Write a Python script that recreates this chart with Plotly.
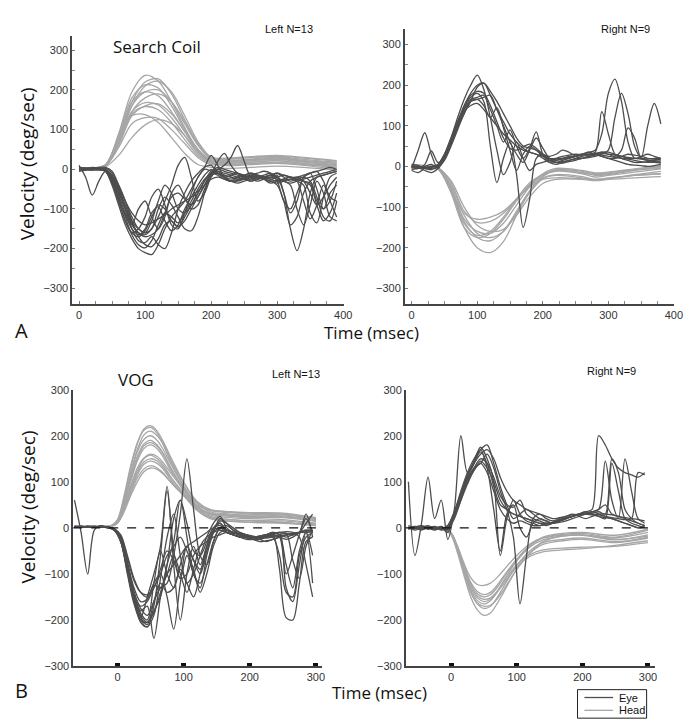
import plotly.graph_objects as go

W, H = 694, 726
EYE_COLOR = "#4d4d4d"
HEAD_COLOR = "#a6a6a6"

# ---------------- Panel A left (Search Coil, Left N=13) ----------------
t_a_eye = list(range(0, 400, 10))
a_left_eye = [
    [5,3,2,0,-5,-30,-70,-120,-165,-190,-198,-180,-140,-110,-120,-135,-110,-80,-50,-25,-10,-5,-15,-20,-25,-20,-18,-22,-25,-20,-15,-60,-150,-205,-150,-60,-20,-15,-10,-5],
    [10,-20,-65,-30,-5,-35,-80,-130,-160,-170,-155,-120,-90,-100,-130,-145,-120,-90,-60,-30,-10,-15,-25,-30,-28,-20,-15,-20,-25,-30,-28,-25,-20,-30,-80,-125,-90,-40,-80,-120],
    [0,2,5,3,-2,-25,-60,-100,-140,-160,-165,-150,-120,-80,-40,10,30,-20,-80,-60,-20,0,-5,-10,-15,-20,-25,-20,-15,-10,-20,-30,-40,-100,-140,-90,-30,-60,-120,-130],
    [3,0,-2,2,0,-20,-55,-100,-150,-180,-185,-170,-190,-200,-160,-100,-60,-30,-10,5,10,-10,-20,-15,-10,-20,-30,-25,-20,-15,-20,-60,-110,-80,-20,-10,-50,-100,-80,-30],
    [0,0,2,0,-5,-40,-90,-140,-175,-200,-210,-215,-190,-150,-120,-100,-80,-50,-20,5,35,10,-20,-30,-20,-15,-10,-15,-20,-25,-20,-15,-20,-25,-30,-40,-90,-130,-110,-60],
    [2,1,0,-1,-3,-20,-50,-90,-130,-150,-160,-150,-100,-70,-90,-120,-150,-155,-120,-60,-10,5,0,-5,-10,-15,-20,-25,-20,-15,-10,-15,-20,-20,-15,-10,-5,0,5,0],
    [-5,-3,0,2,-2,-25,-65,-110,-140,-100,-80,-120,-150,-120,-60,-40,-70,-100,-90,-50,-15,20,40,10,-10,-20,-15,-10,-5,-10,-30,-80,-100,-60,-20,-10,-5,-30,-70,-80],
    [0,2,3,1,0,-15,-45,-80,-120,-150,-160,-130,-80,-40,-60,-100,-110,-90,-60,-30,-5,0,10,30,60,20,-20,-30,-25,-20,-25,-30,-35,-30,-25,-20,-15,-10,-5,0],
    [0,0,-2,0,3,-10,-40,-80,-130,-170,-190,-195,-175,-140,-130,-145,-130,-100,-70,-40,-15,-10,-15,-20,-25,-25,-20,-15,-20,-25,-30,-28,-25,-30,-40,-110,-135,-70,-20,-10],
    [5,3,0,-2,0,-30,-80,-130,-160,-150,-120,-70,-50,-90,-140,-150,-110,-60,-20,0,-5,-10,-20,-30,-35,-30,-25,-20,-25,-30,-40,-80,-140,-120,-60,-30,-20,-15,-10,-5],
    [-3,0,2,4,5,-5,-40,-80,-110,-130,-140,-135,-125,-115,-100,-90,-80,-70,-55,-40,-25,-20,-25,-30,-30,-25,-20,-20,-25,-30,-35,-30,-25,-20,-30,-60,-90,-70,-40,-20],
    [2,2,1,0,-4,-35,-75,-115,-150,-165,-150,-110,-95,-130,-155,-140,-100,-70,-40,-15,0,-10,-20,-25,-20,-15,-10,-15,-25,-35,-30,-25,-20,-25,-30,-35,-80,-100,-60,-40],
    [0,1,0,-1,-2,-18,-50,-95,-135,-160,-170,-165,-150,-110,-70,-60,-75,-90,-70,-40,-10,-5,-10,-15,-20,-25,-30,-25,-20,-15,-10,-20,-30,-25,-20,-30,-70,-120,-130,-80],
]
t_a_head = [0, 20, 40, 60, 80, 100, 120, 140, 160, 180, 200, 220, 260, 300, 340, 390]
a_left_head = [
    [0,3,10,90,195,237,222,170,105,50,22,15,18,22,15,5],
    [0,2,10,75,170,220,228,190,125,65,28,25,30,32,25,18],
    [2,3,8,70,160,210,222,195,135,70,30,28,32,35,30,22],
    [0,2,9,85,180,213,205,160,100,48,20,10,12,15,10,0],
    [-2,1,8,70,160,195,200,170,115,60,25,22,26,30,22,15],
    [1,3,10,80,170,195,185,145,95,45,18,12,15,18,12,5],
    [0,2,8,65,145,180,190,170,120,65,30,26,30,33,28,20],
    [0,3,9,70,145,168,162,130,85,40,18,20,24,28,20,12],
    [0,2,8,60,135,160,165,140,95,50,22,18,22,25,18,10],
    [1,3,10,70,140,158,150,118,75,35,15,10,14,16,12,8],
    [0,3,12,80,135,138,118,80,40,12,5,2,5,8,5,-2],
    [0,2,8,55,115,130,128,100,65,30,12,14,18,22,15,10],
    [0,2,6,35,80,112,125,115,85,45,15,18,22,26,22,15],
]

# ---------------- Panel A right (Search Coil, Right N=9) ----------------
t_ar_eye = list(range(0, 390, 10))
a_right_eye = [
    [-10,-15,-5,0,5,30,70,120,165,200,225,190,120,40,-20,10,60,20,-10,5,10,15,18,20,22,25,28,30,30,28,25,22,20,18,15,12,10,10,8],
    [-5,40,83,30,-5,25,65,110,150,180,200,205,185,160,130,100,70,50,45,40,30,25,30,40,35,25,20,25,30,35,35,30,25,20,20,20,18,20,20],
    [0,-5,5,38,10,20,55,100,145,170,180,160,50,-40,20,60,-20,-150,-80,20,30,15,10,15,20,25,30,35,30,25,20,20,25,30,28,25,20,18,15],
    [5,2,-5,-8,0,25,60,100,140,165,170,175,140,100,60,90,50,20,45,85,30,10,15,20,25,25,30,30,35,135,80,30,20,15,10,10,12,15,18],
    [0,-3,-10,-15,-5,20,55,95,130,160,195,205,175,140,110,80,60,45,35,30,25,20,20,25,28,30,30,35,40,80,180,215,160,60,20,25,30,25,20],
    [-8,-5,0,5,-2,15,50,90,130,160,165,150,120,145,95,40,-10,30,50,40,25,15,10,12,15,18,20,22,25,30,40,120,180,130,50,20,15,15,10],
    [2,0,-3,-5,0,22,60,105,145,175,185,180,150,110,70,45,40,48,55,45,30,20,15,18,20,25,28,30,32,35,30,25,40,95,70,20,100,155,105],
    [-3,-5,-2,0,3,25,60,100,135,150,155,140,120,100,80,65,50,40,35,30,20,10,5,10,15,20,25,28,30,25,20,15,10,5,3,2,0,2,5],
    [0,-2,-5,-3,5,30,70,110,140,160,165,170,175,140,100,60,30,10,40,70,45,20,10,8,12,15,20,25,28,32,30,28,25,22,20,18,15,12,10],
]
t_ar_head = [0, 20, 40, 60, 80, 100, 120, 140, 160, 180, 200, 220, 260, 280, 300, 340, 380]
a_right_head = [
    [5,2,-5,-60,-150,-200,-212,-185,-120,-60,-25,-10,-15,-22,-20,-10,-5],
    [3,0,-6,-55,-135,-175,-183,-160,-110,-60,-28,-20,-25,-32,-30,-22,-18],
    [0,-2,-5,-45,-120,-165,-175,-160,-115,-65,-30,-22,-28,-34,-30,-20,-12],
    [2,0,-4,-55,-140,-170,-160,-125,-80,-40,-20,-8,-12,-18,-15,-8,-2],
    [0,-1,-5,-50,-130,-160,-165,-140,-95,-50,-22,-12,-18,-26,-22,-14,-6],
    [4,1,-6,-60,-115,-130,-125,-110,-80,-50,-32,-28,-30,-32,-28,-22,-18],
    [0,-2,-4,-35,-100,-145,-160,-155,-120,-75,-42,-32,-32,-35,-32,-28,-25],
    [2,0,-5,-65,-150,-175,-165,-130,-85,-45,-20,-10,-15,-20,-18,-8,0],
    [1,0,-3,-40,-110,-138,-135,-115,-80,-45,-18,-5,-10,-16,-14,-6,2],
]

# ---------------- Panel B left (VOG, Left N=13) ----------------
t_b_eye = list(range(-65, 300, 10))
b_left_eye = [
    [60,-10,-100,-5,5,0,-2,-20,-80,-150,-195,-210,-160,-120,-140,-130,-90,-120,-150,-100,-40,0,10,-10,-15,-20,-20,-25,-20,-15,-10,-15,-20,-15,-10,-5,-10],
    [2,2,3,2,3,0,-5,-30,-90,-155,-200,-215,-170,-60,80,-50,-110,-60,-100,-130,-60,-10,20,10,-5,-15,-18,-20,-18,-15,-20,-60,-140,-150,-60,-20,-10],
    [3,3,2,2,2,1,-3,-25,-85,-145,-185,-200,-120,-50,-100,-130,-80,-40,-70,-100,-50,-5,10,-5,-10,-15,-20,-25,-25,-20,-15,-90,-195,-200,-120,-30,-20],
    [2,2,2,3,3,2,-2,-20,-75,-140,-180,-170,-240,-150,-80,-30,60,10,-50,-60,-30,0,5,-5,-10,-15,-15,-20,-22,-18,-15,-20,-25,-20,-10,30,-20],
    [3,2,3,2,2,1,-4,-28,-95,-160,-195,-150,-100,-40,90,-80,-200,-100,-40,-80,-40,-10,0,-10,-15,-20,-25,-25,-20,-15,-10,-15,-80,-130,-50,-10,-60],
    [2,3,2,2,3,2,-3,-22,-80,-140,-175,-190,-160,-130,-120,-60,30,150,40,-60,-80,-30,0,-5,-10,-12,-15,-18,-20,-22,-20,-18,-15,-12,-10,-8,-5],
    [2,2,3,3,2,1,-2,-15,-60,-110,-140,-150,-120,-100,-150,-220,-120,-40,-70,-90,-50,-10,15,10,0,-10,-15,-20,-18,-15,-12,-10,-8,-10,-20,-80,-150],
    [3,3,2,2,2,1,-5,-30,-100,-165,-200,-205,-185,-140,-100,-80,-60,-40,-30,-20,-10,0,-5,-10,-15,-18,-20,-22,-20,-18,-15,-20,-100,-60,-15,20,-10],
    [2,2,2,3,3,2,-3,-25,-85,-150,-190,-205,-180,-150,-80,20,60,-20,-100,-120,-80,-30,0,5,-5,-10,-15,-20,-25,-30,-25,-20,-15,-15,-10,-5,-5],
    [2,3,2,2,2,1,-4,-25,-80,-140,-170,-160,-130,-100,-60,-40,-20,-50,-90,-140,-100,-40,-10,-5,-10,-15,-20,-25,-30,-28,-25,-20,-15,-12,-10,-10,-8],
    [3,2,3,2,2,1,-3,-22,-75,-130,-160,-155,-125,-130,-100,-60,-100,-140,-90,-40,-20,-10,-5,-10,-15,-20,-22,-25,-25,-20,-15,-10,-130,-160,-80,-10,-120],
    [2,2,2,3,2,1,-4,-30,-95,-160,-205,-215,-190,-110,-20,30,-60,-120,-100,-60,-20,10,25,0,-10,-15,-20,-20,-18,-15,-12,-10,-12,-15,-10,10,30],
    [2,3,2,2,3,2,-3,-18,-65,-115,-140,-145,-130,-90,-50,-70,-110,-100,-60,-40,-30,-20,-15,-10,-12,-15,-18,-20,-22,-20,-18,-15,-12,-70,-110,-40,-5],
]
t_b_head = [-65, -40, -20, -10, 0, 10, 20, 30, 40, 50, 60, 70, 80, 100, 120, 140, 170, 200, 250, 300]
b_left_head = [
    [2,3,2,3,15,65,130,182,215,222,210,185,155,100,55,35,30,28,30,20],
    [3,2,3,4,18,70,135,185,212,218,205,178,145,92,50,28,22,20,18,10],
    [2,2,3,5,16,60,120,170,202,210,200,180,150,98,58,40,35,33,32,22],
    [1,2,3,4,14,58,115,165,192,200,190,168,140,90,45,25,18,15,12,5],
    [2,3,2,3,15,55,110,155,182,190,180,160,132,85,45,30,25,22,24,15],
    [2,2,3,4,13,52,105,150,178,185,177,158,130,85,48,32,28,26,26,18],
    [3,3,2,3,12,50,100,145,172,180,172,152,125,80,40,22,15,12,10,5],
    [1,2,2,3,12,45,90,130,152,160,155,140,120,85,55,38,33,30,28,20],
    [2,2,3,3,12,44,88,125,150,158,150,135,112,75,40,24,18,16,15,8],
    [2,3,2,4,12,42,85,120,143,150,145,130,110,75,45,30,26,24,22,14],
    [2,2,3,4,11,40,80,115,138,145,140,126,105,70,38,20,14,12,12,6],
    [1,2,3,3,10,38,75,108,128,135,130,118,100,70,45,32,27,25,24,16],
    [2,2,2,3,10,35,70,100,122,130,127,116,100,72,50,38,34,32,30,22],
]

# ---------------- Panel B right (VOG, Right N=9) ----------------
b_right_eye = [
    [100,-60,10,110,20,60,-25,40,200,120,140,170,130,40,-50,30,50,0,-20,10,20,15,10,15,20,25,30,30,35,30,25,20,15,10,5,0,5],
    [0,0,2,0,-5,0,-10,30,70,110,140,165,140,90,50,40,30,25,20,15,10,5,10,15,20,25,30,35,30,25,20,140,80,20,10,5,0],
    [5,0,-5,2,0,-3,5,35,75,115,145,175,150,100,-60,20,60,30,15,10,5,8,12,18,22,25,28,30,32,35,30,150,120,40,20,10,5],
    [-3,2,5,0,-2,3,-5,30,70,105,130,140,160,130,80,40,-20,-165,-60,20,30,20,15,20,25,30,25,20,25,30,30,28,25,22,20,18,15],
    [2,-5,0,5,-3,0,2,28,65,100,130,150,140,110,70,50,45,60,30,20,15,10,12,15,20,25,30,35,40,200,180,150,130,120,115,110,120],
    [0,3,-2,0,2,-5,0,25,60,95,125,145,130,100,60,40,30,25,20,15,10,10,12,15,20,25,30,32,35,40,145,60,20,150,80,20,10],
    [-2,0,3,-3,0,2,-3,30,70,110,140,160,170,150,110,80,60,50,40,35,30,25,20,22,25,28,30,32,30,28,25,22,20,18,20,120,115],
    [1,-2,0,2,-1,0,-2,20,60,100,125,140,120,80,40,20,10,15,10,5,5,8,10,15,20,25,28,30,28,25,22,20,15,10,5,0,2],
    [0,2,-3,0,3,-2,5,35,80,120,150,170,180,140,90,50,20,30,40,30,20,15,10,12,15,20,25,30,35,40,50,30,25,20,15,10,5],
]
b_right_head = [
    [0,0,-2,-3,-15,-55,-105,-150,-178,-190,-185,-165,-140,-90,-55,-30,-18,-15,-22,-10],
    [0,-1,-2,-3,-14,-50,-98,-140,-165,-175,-170,-152,-128,-82,-50,-32,-25,-22,-30,-20],
    [0,0,-1,-2,-13,-48,-95,-135,-158,-165,-158,-140,-115,-72,-42,-26,-18,-16,-26,-15],
    [0,0,-2,-3,-12,-45,-88,-125,-148,-155,-152,-138,-118,-80,-58,-48,-44,-42,-40,-32],
    [0,-1,-2,-3,-12,-44,-85,-122,-143,-150,-145,-130,-108,-70,-40,-22,-14,-12,-20,-5],
    [0,0,-1,-2,-10,-40,-78,-108,-123,-125,-120,-108,-92,-60,-35,-22,-16,-15,-25,-18],
    [0,-1,-2,-3,-13,-46,-90,-130,-152,-160,-155,-140,-122,-85,-62,-52,-48,-45,-38,-28],
    [0,0,-1,-2,-11,-42,-82,-118,-138,-145,-140,-125,-105,-68,-38,-20,-12,-10,-16,-3],
    [0,-1,-2,-3,-14,-50,-95,-140,-163,-170,-168,-155,-135,-90,-55,-36,-28,-25,-32,-22],
]

top_xticks = [0, 100, 200, 300, 400]
top_yticks = [-300, -200, -100, 0, 100, 200, 300]
bot_xticks = [0, 100, 200, 300]
bot_yticks = [-300, -200, -100, 0, 100, 200, 300]
legend_labels = ["Eye", "Head"]


def px(x):
    return x / W


def py(y):
    return 1 - y / H


fig = go.Figure()


def add_group(t, series, color, xa, ya):
    for s in series:
        fig.add_trace(go.Scatter(
            x=t, y=s, mode="lines",
            line=dict(color=color, width=1.3, shape="spline", smoothing=0.9),
            xaxis=xa, yaxis=ya, hoverinfo="skip", showlegend=False,
        ))


add_group(t_a_head, a_left_head, HEAD_COLOR, "x", "y")
add_group(t_a_eye, a_left_eye, EYE_COLOR, "x", "y")
add_group(t_ar_head, a_right_head, HEAD_COLOR, "x2", "y2")
add_group(t_ar_eye, a_right_eye, EYE_COLOR, "x2", "y2")
add_group(t_b_head, b_left_head, HEAD_COLOR, "x3", "y3")
add_group(t_b_eye, b_left_eye, EYE_COLOR, "x3", "y3")
add_group(t_b_head, b_right_head, HEAD_COLOR, "x4", "y4")
add_group(t_b_eye, b_right_eye, EYE_COLOR, "x4", "y4")

tick_font = dict(family="Liberation Sans, Arial, sans-serif", size=11, color="#333")
axis_col = "#444"

top_x_common = dict(
    showgrid=False, zeroline=False, showline=True, linecolor=axis_col, linewidth=1.5,
    tickmode="array", tickvals=top_xticks, ticks="inside", ticklen=3, tickcolor="#777",
    minor=dict(dtick=25, tick0=0, ticks="inside", ticklen=3, tickcolor="#888"),
    tickfont=tick_font,
)
top_y_common = dict(
    showgrid=False, zeroline=False, showline=True, linecolor=axis_col, linewidth=1.5,
    tickmode="array", tickvals=top_yticks, ticks="inside", ticklen=3, tickcolor="#777",
    minor=dict(dtick=50, tick0=0, ticks="inside", ticklen=3, tickcolor="#888"),
    tickfont=tick_font,
)
bot_x_common = dict(
    showgrid=False, zeroline=False, showline=True, linecolor=axis_col, linewidth=1.5,
    tickmode="array", tickvals=bot_xticks, ticks="inside", ticklen=3, tickwidth=5,
    tickcolor="#111", tickfont=tick_font,
)
bot_y_common = dict(
    showgrid=False, zeroline=False, showline=True, linecolor=axis_col, linewidth=1.5,
    tickmode="array", tickvals=bot_yticks, ticks="", tickfont=tick_font,
)

fig.update_layout(
    width=W, height=H, margin=dict(l=0, r=0, t=0, b=0),
    paper_bgcolor="white", plot_bgcolor="white", showlegend=False,
    xaxis=dict(domain=[px(65), px(340)], range=[-10.4, 400.5], anchor="y", **top_x_common),
    yaxis=dict(domain=[py(295), py(22)], range=[-340, 337], anchor="x", **top_y_common),
    xaxis2=dict(domain=[px(402), px(675)], range=[-10.5, 400.5], anchor="y2", **top_x_common),
    yaxis2=dict(domain=[py(295), py(15)], range=[-339, 339], anchor="x2", **top_y_common),
    xaxis3=dict(domain=[px(66), px(318)], range=[-67, 309], anchor="y3", **bot_x_common),
    yaxis3=dict(domain=[py(663), py(382)], range=[-300, 300], anchor="x3", **bot_y_common),
    xaxis4=dict(domain=[px(403), px(655)], range=[-69, 310], anchor="y4", **bot_x_common),
    yaxis4=dict(domain=[py(663), py(382)], range=[-300, 300], anchor="x4", **bot_y_common),
)

# dashed zero lines in VOG panels
for xa, ya, x0 in (("x3", "y3", -67), ("x4", "y4", -69)):
    fig.add_shape(type="line", xref=xa, yref=ya, x0=x0, x1=300, y0=0, y1=0,
                  line=dict(color="#111", width=1.3, dash="dash"))

# legend box (Eye / Head)
fig.add_shape(type="rect", xref="paper", yref="paper",
              x0=px(577), x1=px(647), y0=py(716), y1=py(687),
              line=dict(color="#222", width=1), fillcolor="white")
for yy, col in ((695, EYE_COLOR), (708, HEAD_COLOR)):
    fig.add_shape(type="line", xref="paper", yref="paper",
                  x0=px(584), x1=px(613), y0=py(yy), y1=py(yy),
                  line=dict(color=col, width=1.3))

title_font = dict(family="Open Sans, Liberation Sans, sans-serif", color="#111")
ann = []


def text(x, y, s, size, family=None, angle=0, xanchor="center"):
    f = dict(title_font)
    f["size"] = size
    if family:
        f["family"] = family
    ann.append(dict(x=px(x), y=py(y), xref="paper", yref="paper", text=s,
                    showarrow=False, font=f, textangle=angle,
                    xanchor=xanchor, yanchor="middle"))


sans = "Liberation Sans, Arial, sans-serif"
text(20, 152, "Velocity (deg/sec)", 19, angle=-90)
text(20, 501, "Velocity (deg/sec)", 19, angle=-90)
text(368, 324, "Time (msec)", 17)
text(376, 690, "Time (msec)", 17)
text(14, 322, "A", 20)
text(14, 688, "B", 20)
text(151, 33, "Search Coil", 17)
text(130, 372, "VOG", 17)
text(285, 15, "Left N=13", 11, family=sans)
text(626, 15, "Right N=9", 11, family=sans)
text(292, 366, "Left N=13", 11, family=sans)
text(611, 363, "Right N=9", 11, family=sans)
text(617, 695, legend_labels[0], 11, family=sans, xanchor="left")
text(617, 708, legend_labels[1], 11, family=sans, xanchor="left")
fig.update_layout(annotations=ann)

fig.write_html("out.html")
